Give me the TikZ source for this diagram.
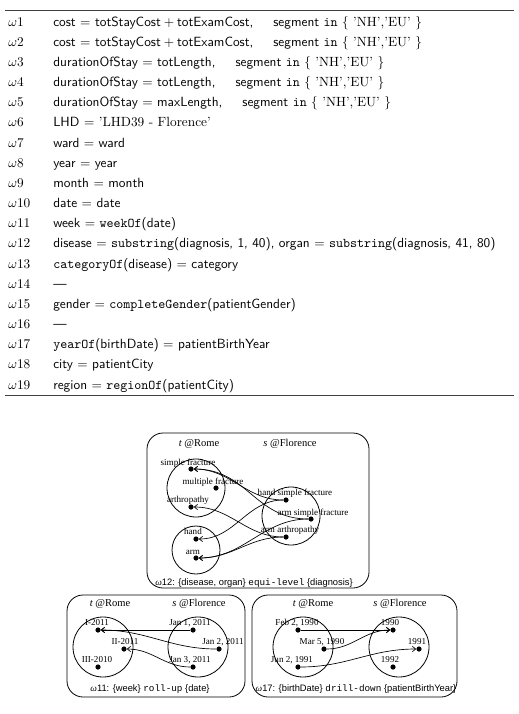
\documentclass[tikz,border=0pt]{standalone}
\usepackage{fontspec}
\usetikzlibrary{arrows.meta}
\newfontfamily\tms{Liberation Serif}
\newfontfamily\ars{Liberation Sans}
\newfontfamily\crr{Liberation Mono}
\begin{document}
\begin{tikzpicture}[x=0.75pt,y=-0.75pt,
  rowlab/.style={anchor=base west,inner sep=0pt,font=\fontsize{10}{12}\selectfont},
  rowtxt/.style={anchor=base west,inner sep=0pt,font=\fontsize{10}{12}\selectfont\sffamily},
  tabrule/.style={line width=0.7pt,black!75},
  dot/.style={circle,fill=black,inner sep=0pt,minimum size=3.9pt},
  lbl/.style={anchor=base,inner sep=0pt,font=\tms\fontsize{6.8}{8}\selectfont},
  hdr/.style={anchor=base,inner sep=0pt,font=\tms\fontsize{7.9}{9}\selectfont},
  capt/.style={anchor=base,inner sep=0pt,font=\ars\fontsize{7}{8}\selectfont},
  region/.style={draw,line width=0.6pt},
  frame/.style={draw,line width=0.6pt,rounded corners=12pt},
  arr/.style={line width=0.5pt,-{Straight Barb[length=2.4pt,width=4pt]}}
]
\useasboundingbox (0,0) rectangle (518,714);
% ---------- table ----------
\draw[tabrule] (5,10) coordinate (r1a) -- (514,10) coordinate (r1b);
\draw[tabrule] (5,395) coordinate (r2a) -- (514,395) coordinate (r2b);
\def\seg{\hspace{1.5em}segment \texttt{in} \textrm{\{ ’NH’,’EU’ \}}}
\node[rowlab] (w1) at (8,26) {$\omega1$};
\node[rowtxt] (t1) at (53,26) {cost $=$ totStayCost$\mkern4mu+\mkern4mu$totExamCost,\seg};
\node[rowlab] (w2) at (8,46.2) {$\omega2$};
\node[rowtxt] (t2) at (53,46.2) {cost $=$ totStayCost$\mkern4mu+\mkern4mu$totExamCost,\seg};
\node[rowlab] (w3) at (8,66.3) {$\omega3$};
\node[rowtxt] (t3) at (53,66.3) {durationOfStay $=$ totLength,\seg};
\node[rowlab] (w4) at (8,86.5) {$\omega4$};
\node[rowtxt] (t4) at (53,86.5) {durationOfStay $=$ totLength,\seg};
\node[rowlab] (w5) at (8,106.7) {$\omega5$};
\node[rowtxt] (t5) at (53,106.7) {durationOfStay $=$ maxLength,\seg};
\node[rowlab] (w6) at (8,126.9) {$\omega6$};
\node[rowtxt] (t6) at (53,126.9) {LHD $=$ \textrm{’LHD39 - Florence’}};
\node[rowlab] (w7) at (8,147) {$\omega7$};
\node[rowtxt] (t7) at (53,147) {ward $=$ ward};
\node[rowlab] (w8) at (8,167.2) {$\omega8$};
\node[rowtxt] (t8) at (53,167.2) {year $=$ year};
\node[rowlab] (w9) at (8,187.4) {$\omega9$};
\node[rowtxt] (t9) at (53,187.4) {month $=$ month};
\node[rowlab] (w10) at (8,207.5) {$\omega10$};
\node[rowtxt] (t10) at (53,207.5) {date $=$ date};
\node[rowlab] (w11) at (8,227.7) {$\omega11$};
\node[rowtxt] (t11) at (53,227.7) {week $=$ \texttt{weekOf}(date)};
\node[rowlab] (w12) at (8,247.9) {$\omega12$};
\node[rowtxt] (t12) at (53,247.9) {disease $=$ \texttt{substring}(diagnosis, 1, 40), organ $=$ \texttt{substring}(diagnosis, 41, 80)};
\node[rowlab] (w13) at (8,268) {$\omega13$};
\node[rowtxt] (t13) at (53,268) {\texttt{categoryOf}(disease) $=$ category};
\node[rowlab] (w14) at (8,288.2) {$\omega14$};
\node[rowtxt] (t14) at (53,288.2) {---};
\node[rowlab] (w15) at (8,308.4) {$\omega15$};
\node[rowtxt] (t15) at (53,308.4) {gender $=$ \texttt{completeGender}(patientGender)};
\node[rowlab] (w16) at (8,328.6) {$\omega16$};
\node[rowtxt] (t16) at (53,328.6) {---};
\node[rowlab] (w17) at (8,348.7) {$\omega17$};
\node[rowtxt] (t17) at (53,348.7) {\texttt{yearOf}(birthDate) $=$ patientBirthYear};
\node[rowlab] (w18) at (8,368.9) {$\omega18$};
\node[rowtxt] (t18) at (53,368.9) {city $=$ patientCity};
\node[rowlab] (w19) at (8,389) {$\omega19$};
\node[rowtxt] (t19) at (53,389) {region $=$ \texttt{regionOf}(patientCity)};
% ---------- equi-level box ----------
\draw[frame] (147,433) rectangle (369,588);
\node[hdr] (h1) at (199,446.5) {\itshape t\upshape\ @Rome};
\node[hdr] (h2) at (290,446.5) {\itshape s\upshape\ @Florence};
\draw[region] (196,488) circle[radius=29];
\draw[region] (196,550) circle[radius=24];
\draw[region] (291,516) circle[radius=29];
\node[dot] (sf) at (191,469) {};
\node[dot] (mf) at (216,488) {};
\node[dot] (ar) at (191,507) {};
\node[dot] (hd) at (196,539) {};
\node[dot] (am) at (196,558) {};
\node[dot] (hsf) at (286,500) {};
\node[dot] (asf) at (311,519) {};
\node[dot] (aa) at (286,537) {};
\node[lbl] (lsf) at (188,465) {simple fracture};
\node[lbl] (lmf) at (213,484) {multiple fracture};
\node[lbl] (lar) at (188,502) {arthropathy};
\node[lbl] (lhd) at (193,534) {hand};
\node[lbl] (lam) at (193,554) {arm};
\node[lbl] (lhsf) at (295,495) {hand simple fracture};
\node[lbl] (lasf) at (313,515) {arm simple fracture};
\node[lbl] (laa) at (290,532) {arm arthropathy};
\draw[arr] (hsf) to[out=180,in=0] (sf);
\draw[arr] (asf) to[out=180,in=0,looseness=1.1] (sf);
\draw[arr] (aa) to[out=180,in=0] (ar);
\draw[arr] (hsf) to[out=180,in=0] (hd);
\draw[arr] (asf) to[out=180,in=0] (am);
\draw[arr] (aa) to[out=180,in=0] (am);
\node[capt] (c1) at (254,585) {{\tms\itshape ω}12: \{disease, organ\} {\crr equi-level} \{diagnosis\}};
% ---------- roll-up box ----------
\draw[frame] (67,595) rectangle (245,697);
\node[hdr] (h3) at (110,606.5) {\itshape t\upshape\ @Rome};
\node[hdr] (h4) at (199,606.5) {\itshape s\upshape\ @Florence};
\draw[region] (103,647) circle[radius=30];
\draw[region] (198,647) circle[radius=30];
\node[dot] (i1) at (98,630) {};
\node[dot] (i2) at (124,649) {};
\node[dot] (i3) at (98,667) {};
\node[dot] (j1) at (193,630) {};
\node[dot] (j2) at (219,649) {};
\node[dot] (j3) at (193,667) {};
\node[lbl] (li1) at (97,625) {I-2011};
\node[lbl] (li2) at (125,644) {II-2011};
\node[lbl] (li3) at (97,662) {III-2010};
\node[lbl] (lj1) at (190,625) {Jan 1, 2011};
\node[lbl] (lj2) at (223,644) {Jan 2, 2011};
\node[lbl] (lj3) at (190,662) {Jan 3, 2011};
\draw[arr] (j1) -- (i1);
\draw[arr] (j2) to[out=180,in=0] (i1);
\draw[arr] (j3) to[out=180,in=0] (i2);
\node[capt] (c2) at (150,691) {{\tms\itshape ω}11: \{week\} {\crr roll-up} \{date\}};
% ---------- drill-down box ----------
\draw[frame] (252,595) rectangle (457,697);
\node[hdr] (h5) at (313,606.5) {\itshape t\upshape\ @Rome};
\node[hdr] (h6) at (400,606.5) {\itshape s\upshape\ @Florence};
\draw[region] (303,647) circle[radius=30];
\draw[region] (399,647) circle[radius=30];
\node[dot] (f1) at (298,630) {};
\node[dot] (f2) at (324,649) {};
\node[dot] (f3) at (298,667) {};
\node[dot] (y1) at (393,630) {};
\node[dot] (y2) at (419,649) {};
\node[dot] (y3) at (393,667) {};
\node[lbl] (lf1) at (297,625) {Feb 2, 1990};
\node[lbl] (lf2) at (322,644) {Mar 5, 1990};
\node[lbl] (lf3) at (292,662) {Jun 2, 1991};
\node[lbl] (ly1) at (390,625) {1990};
\node[lbl] (ly2) at (417,644) {1991};
\node[lbl] (ly3) at (390,662) {1992};
\draw[arr] (f1) -- (y1);
\draw[arr] (f2) to[out=0,in=180] (y1);
\draw[arr] (f3) to[out=0,in=180] (y2);
\node[capt] (c3) at (356,691) {{\tms\itshape ω}17: \{birthDate\} {\crr drill-down} \{patientBirthYear\}};
\end{tikzpicture}
\end{document}
